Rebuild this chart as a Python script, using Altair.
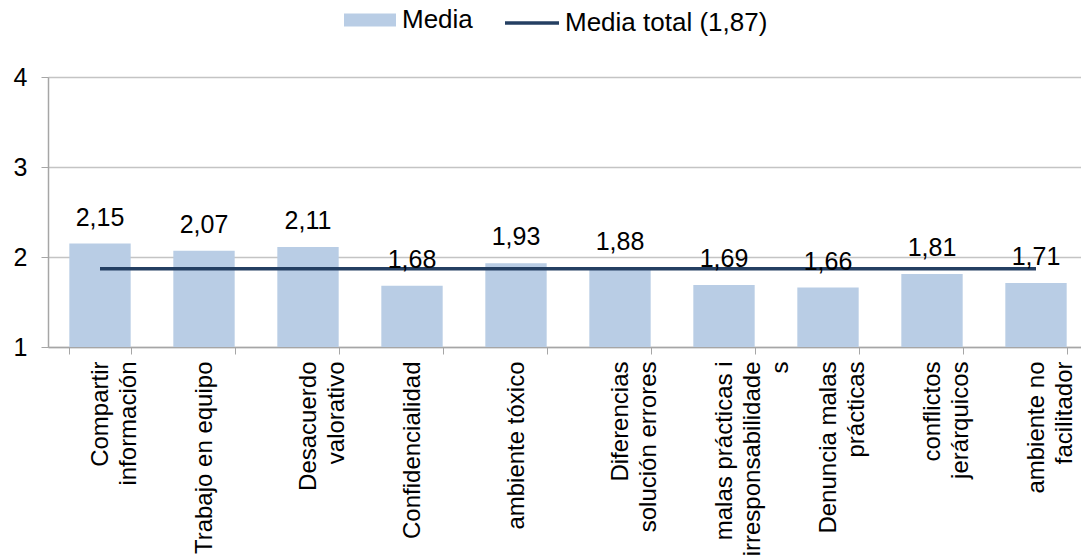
import altair as alt
import pandas as pd

categories = [
    "Compartir\ninformación",
    "Trabajo en equipo",
    "Desacuerdo\nvalorativo",
    "Confidencialidad",
    "ambiente tóxico",
    "Diferencias\nsolución errores",
    "malas prácticas i\nirresponsabilidade\ns",
    "Denuncia malas\nprácticas",
    "conflictos\njerárquicos",
    "ambiente no\nfacilitador",
]
values = [2.15, 2.07, 2.11, 1.68, 1.93, 1.88, 1.69, 1.66, 1.81, 1.71]
total_mean = 1.87
axis_min = 1
bar_series = "Media"
line_series = "Media total (1,87)"

df = pd.DataFrame({
    "cat": categories,
    "value": values,
    "label": [f"{v:.2f}".replace(".", ",") for v in values],
    "total": [total_mean] * len(categories),
    "serie": [bar_series] * len(categories),
    "serie2": [line_series] * len(categories),
})

FONT = "Liberation Sans"
BAR = "#B9CDE5"
LINE = "#243F62"

x_enc = alt.X(
    "cat:N",
    sort=categories,
    scale=alt.Scale(range=[0, 1040], paddingInner=0.41, paddingOuter=0.205),
    axis=alt.Axis(
        title=None,
        labelAngle=270,
        labelAlign="right",
        labelBaseline="middle",
        labelFontSize=24,
        labelLineHeight=28,
        labelPadding=7,
        labelLimit=0,
        labelColor="#000000",
        labelExpr="split(datum.label, '\\n')",
        tickBand="extent",
        tickSize=7,
        tickColor="#A6A6A6",
        domainColor="#A6A6A6",
        domainWidth=1.5,
        grid=False,
        labelFont=FONT,
    ),
)

y_scale = alt.Scale(domain=[1, 4], nice=False, zero=False)

bars = alt.Chart(df).mark_bar(color=BAR).encode(
    x=x_enc,
    y=alt.Y(
        "value:Q",
        scale=y_scale,
        axis=alt.Axis(
            title=None,
            values=[1, 2, 3, 4],
            format="d",
            labelFontSize=25,
            labelPadding=14,
            labelColor="#000000",
            labelFont=FONT,
            tickSize=7,
            tickColor="#A6A6A6",
            domainColor="#A6A6A6",
            domainWidth=1.5,
            gridColor="#C4C4C4",
            gridWidth=1.5,
        ),
    ),
    y2=alt.datum(axis_min),
    color=alt.Color(
        "serie:N",
        scale=alt.Scale(domain=[bar_series], range=[BAR]),
        legend=alt.Legend(
            title=None,
            orient="none",
            legendX=296,
            legendY=-83,
            symbolType="M-1,-0.25H1V0.25H-1Z",
            symbolSize=2704,
            symbolStrokeWidth=0,
            symbolOpacity=1,
            labelFontSize=26,
            labelFont=FONT,
            labelColor="#000000",
            labelOffset=6,
            labelLimit=0,
            padding=0,
        ),
    ),
)

line = alt.Chart(df).mark_line(strokeWidth=3.5).encode(
    x=alt.X("cat:N", sort=categories),
    y=alt.Y("total:Q", scale=y_scale),
    stroke=alt.Stroke(
        "serie2:N",
        scale=alt.Scale(domain=[line_series], range=[LINE]),
        legend=alt.Legend(
            title=None,
            orient="none",
            legendX=455,
            legendY=-83,
            symbolType="stroke",
            symbolSize=2916,
            symbolStrokeWidth=3.5,
            labelFontSize=26,
            labelFont=FONT,
            labelColor="#000000",
            labelOffset=4,
            labelLimit=0,
            padding=0,
        ),
    ),
)

texts = alt.Chart(df).mark_text(
    baseline="alphabetic", dy=-18, fontSize=25, font=FONT, color="#000000"
).encode(
    x=alt.X("cat:N", sort=categories),
    y=alt.Y("value:Q", scale=y_scale),
    text="label:N",
)

chart = alt.layer(bars, line, texts).properties(
    width=1033,
    height=270,
    autosize=alt.AutoSizeParams(type="none"),
    padding={"left": 48, "top": 77, "right": 0, "bottom": 210},
).configure_view(stroke=None).configure(background="white")

chart.save("out.html", embed_options={"renderer": "svg", "actions": False})
